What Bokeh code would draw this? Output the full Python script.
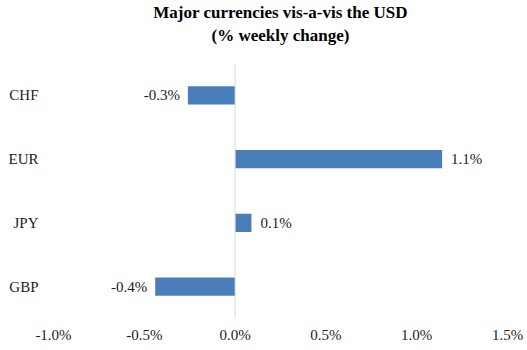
from bokeh.plotting import figure
from bokeh.models import ColumnDataSource, Span, FactorRange, Range1d, Title, CustomJSTickFormatter
from bokeh.core.properties import value
from bokeh.embed import file_html
from bokeh.resources import INLINE

currencies = ["CHF", "EUR", "JPY", "GBP"]
weekly_change = [-0.26, 1.14, 0.09, -0.44]  # percent
x_ticks = [-1.0, -0.5, 0.0, 0.5, 1.0, 1.5]
title_lines = ["Major currencies vis-a-vis the USD", "(% weekly change)"]

labels = [f"{v:.1f}%" for v in weekly_change]
src = ColumnDataSource(dict(cur=currencies, val=weekly_change, lab=labels))

FONT = "Liberation Serif"
p = figure(width=527, height=350, output_backend="svg", toolbar_location=None,
           y_range=FactorRange(*reversed(currencies)),
           x_range=Range1d(-1.0, 1.5),
           min_border_left=53, min_border_right=20, min_border_top=0, min_border_bottom=32)
p.title.visible = False
spacer = Title(text=" ", text_font_size="1px", standoff=9)
sub = Title(text=title_lines[1], align="center", vertical_align="top", text_font=FONT,
            text_font_size="17px", text_font_style="bold", text_color="black", standoff=9)
main = Title(text=title_lines[0], align="center", vertical_align="bottom", text_font=FONT,
             text_font_size="17px", text_font_style="bold", text_color="black", standoff=0)
p.add_layout(spacer, "above")
p.add_layout(sub, "above")
p.add_layout(main, "above")

p.hbar(y="cur", right="val", left=0, height=0.29, source=src,
       fill_color="#4A7EBB", line_color=None)

p.add_layout(Span(location=0, dimension="height", line_color="#d9d9d9", line_width=1))

pos_src = ColumnDataSource(dict(cur=[c for c, v in zip(currencies, weekly_change) if v >= 0],
                                val=[v for v in weekly_change if v >= 0],
                                lab=[l for l, v in zip(labels, weekly_change) if v >= 0]))
neg_src = ColumnDataSource(dict(cur=[c for c, v in zip(currencies, weekly_change) if v < 0],
                                val=[v for v in weekly_change if v < 0],
                                lab=[l for l, v in zip(labels, weekly_change) if v < 0]))
p.text(x="val", y="cur", text="lab", source=pos_src, x_offset=9, text_align="left",
       text_baseline="middle", text_font=value(FONT), text_font_size="15px", text_color="#222222")
p.text(x="val", y="cur", text="lab", source=neg_src, x_offset=-8, text_align="right",
       text_baseline="middle", text_font=value(FONT), text_font_size="15px", text_color="#222222")

p.xaxis.ticker = x_ticks
p.xaxis.formatter = CustomJSTickFormatter(code="return tick.toFixed(1) + '%';")
for ax in (p.xaxis, p.yaxis):
    ax.axis_line_color = None
    ax.major_tick_line_color = None
    ax.minor_tick_line_color = None
    ax.major_label_text_font = FONT
    ax.major_label_text_font_size = "15px"
    ax.major_label_text_color = "#222222"
p.xaxis.major_label_standoff = 2
p.yaxis.major_label_standoff = 9
p.xgrid.visible = False
p.ygrid.visible = False
p.outline_line_color = None

open("out.html", "w").write(file_html(p, INLINE))
